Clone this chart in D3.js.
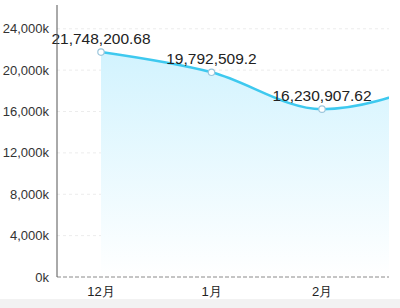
<!DOCTYPE html>
<html lang="zh">
<head>
  <meta charset="UTF-8" />
  <title>Monthly line</title>
  <script src="https://d3js.org/d3.v7.min.js"></script>
  <style>
    body { margin: 0; background: #fff; }
    svg text { font-family: "Liberation Sans", Arial, sans-serif; }
  </style>
</head>
<body>
  <div id="chart"></div>
  <script>
    // data
    const months = ["12月", "1月", "2月", "3月"];
    const values = [21748200.68, 19792509.2, 16230907.62, 18760000];
    const yTicks = [0, 4000000, 8000000, 12000000, 16000000, 20000000, 24000000];

    const width = 400, height = 308;
    const plotLeft = 57, plotRight = 389, plotTop = 5, plotBottom = 277;

    const svg = d3.select("#chart").append("svg")
      .attr("width", width)
      .attr("height", height);

    // grey strip at the bottom
    svg.append("rect")
      .attr("x", 0).attr("y", 299)
      .attr("width", width).attr("height", height - 299)
      .attr("fill", "#f2f2f2");

    const x = d3.scalePoint().domain(months).range([101, 432.5]);
    const y = d3.scaleLinear().domain([0, 26300000]).range([plotBottom, plotTop]);

    const defs = svg.append("defs");
    const grad = defs.append("linearGradient")
      .attr("id", "fillGrad")
      .attr("x1", 0).attr("y1", 0).attr("x2", 0).attr("y2", 1);
    grad.append("stop").attr("offset", "0%").attr("stop-color", "#d2f3fe");
    grad.append("stop").attr("offset", "100%").attr("stop-color", "#ffffff");

    defs.append("clipPath").attr("id", "clip")
      .append("rect")
      .attr("x", 0).attr("y", 0)
      .attr("width", plotRight).attr("height", plotBottom);

    // grid lines
    svg.append("g")
      .selectAll("line")
      .data(yTicks.slice(1))
      .enter().append("line")
      .attr("x1", plotLeft).attr("x2", plotRight)
      .attr("y1", d => y(d)).attr("y2", d => y(d))
      .attr("stroke", "#ececec")
      .attr("stroke-dasharray", "3,3");

    const data = months.map((m, i) => ({ m, v: values[i] }));
    const plot = svg.append("g").attr("clip-path", "url(#clip)");

    const area = d3.area()
      .x(d => x(d.m))
      .y0(plotBottom)
      .y1(d => y(d.v))
      .curve(d3.curveMonotoneX);

    const line = d3.line()
      .x(d => x(d.m))
      .y(d => y(d.v))
      .curve(d3.curveMonotoneX);

    plot.append("path")
      .datum(data)
      .attr("d", area)
      .attr("fill", "url(#fillGrad)");

    plot.append("path")
      .datum(data)
      .attr("d", line)
      .attr("fill", "none")
      .attr("stroke", "#3ec9ef")
      .attr("stroke-width", 2.5);

    // only points inside the visible window get markers and labels
    const shown = data.filter(d => x(d.m) <= plotRight);

    plot.selectAll(".pt")
      .data(shown)
      .enter().append("circle")
      .attr("class", "pt")
      .attr("cx", d => x(d.m))
      .attr("cy", d => y(d.v))
      .attr("r", 3.2)
      .attr("fill", "#fff")
      .attr("stroke", "#9cc6dc")
      .attr("stroke-width", 1.2);

    const fmt = v => v.toLocaleString("en-US", { maximumFractionDigits: 2 });
    svg.selectAll(".lbl")
      .data(shown)
      .enter().append("text")
      .attr("class", "lbl")
      .attr("x", d => x(d.m))
      .attr("y", d => y(d.v) - 8)
      .attr("text-anchor", "middle")
      .attr("font-size", 15.5)
      .attr("fill", "#222")
      .text(d => fmt(d.v));

    // x axis (dashed baseline)
    svg.append("line")
      .attr("x1", plotLeft).attr("x2", plotRight)
      .attr("y1", plotBottom).attr("y2", plotBottom)
      .attr("stroke", "#8a8a8a")
      .attr("stroke-dasharray", "4,2");

    svg.append("g")
      .selectAll("text")
      .data(shown)
      .enter().append("text")
      .attr("x", d => x(d.m))
      .attr("y", 296)
      .attr("text-anchor", "middle")
      .attr("font-size", 13)
      .attr("fill", "#222")
      .text(d => d.m);

    // y axis
    svg.append("line")
      .attr("x1", plotLeft).attr("x2", plotLeft)
      .attr("y1", plotTop).attr("y2", plotBottom)
      .attr("stroke", "#555");

    svg.append("g")
      .selectAll("text")
      .data(yTicks)
      .enter().append("text")
      .attr("x", 49)
      .attr("y", d => y(d) + 4.5)
      .attr("text-anchor", "end")
      .attr("font-size", 13)
      .attr("fill", "#333")
      .text(d => d3.format(",")(d / 1000) + "k");
  </script>
</body>
</html>
